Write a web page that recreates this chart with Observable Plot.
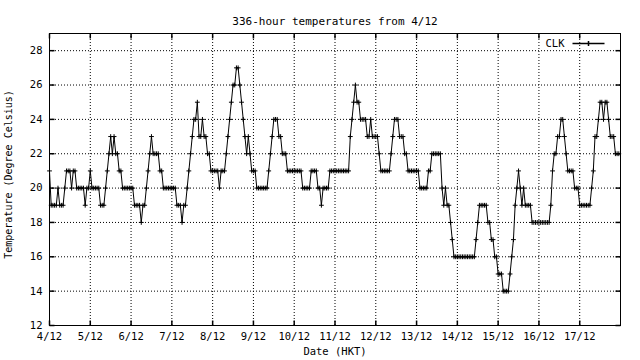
<!DOCTYPE html>
<html>
<head>
<meta charset="utf-8">
<script src="https://cdn.jsdelivr.net/npm/d3@7"></script>
<script src="https://cdn.jsdelivr.net/npm/@observablehq/plot@0.6"></script>
<style>
  html, body { margin: 0; padding: 0; background: #fff; }
</style>
</head>
<body>
<div id="chart"></div>
<script>
// ---- chart data ----
const chartTitle = "336-hour temperatures from 4/12";
const xTitle = "Date (HKT)";
const yTitle = "Temperature (Degree Celsius)";
const seriesName = "CLK";
const dayLabels = ["4/12","5/12","6/12","7/12","8/12","9/12","10/12","11/12","12/12","13/12","14/12","15/12","16/12","17/12"];
const dayStartHours = [0,24,48,72,96,120,144,168,192,216,240,264,288,312];
const hourDomain = [0, 336];
const tempDomain = [12, 29];
const tempTicks = [12,14,16,18,20,22,24,26,28];
// hourly temperatures (deg C), one row per day
const temperatures = [
  21,19,19,19,19,20,19,19,19,20,21,21,21,20,21,21,20,20,20,20,20,19,20,20, // 4/12
  21,20,20,20,20,20,19,19,19,20,21,22,23,22,23,22,22,21,21,20,20,20,20,20, // 5/12
  20,20,19,19,19,19,18,19,19,20,21,22,23,22,22,22,22,21,21,20,20,20,20,20, // 6/12
  20,20,20,19,19,19,18,19,19,20,21,22,23,24,24,25,23,23,24,23,23,22,22,21, // 7/12
  21,21,21,21,20,21,21,21,22,23,24,25,26,26,27,27,26,25,24,23,22,23,22,21, // 8/12
  21,21,20,20,20,20,20,20,20,21,22,23,24,24,24,23,23,22,22,22,21,21,21,21, // 9/12
  21,21,21,21,21,20,20,20,20,20,21,21,21,21,20,20,19,20,20,20,20,21,21,21, // 10/12
  21,21,21,21,21,21,21,21,21,23,24,25,26,25,25,24,24,24,24,23,23,24,23,23, // 11/12
  23,23,22,21,21,21,21,21,21,22,23,24,24,24,23,23,23,22,22,21,21,21,21,21, // 12/12
  21,21,20,20,20,20,20,21,21,22,22,22,22,22,22,20,19,20,19,19,18,17,16,16, // 13/12
  16,16,16,16,16,16,16,16,16,16,16,17,18,19,19,19,19,19,18,18,17,17,16,16, // 14/12
  15,15,15,14,14,14,14,15,16,17,19,20,21,20,19,20,19,19,19,19,18,18,18,18, // 15/12
  18,18,18,18,18,18,18,19,21,22,22,23,23,24,24,23,22,21,21,21,21,20,20,20, // 16/12
  19,19,19,19,19,19,19,20,21,23,23,24,25,25,24,25,25,24,23,23,23,22,22,22  // 17/12
];

// ---- build rows ----
const rows = temperatures.map((t, i) => ({hour: i, temp: t}));

// ---- shapes ----
const plusShape = {draw(ctx, size) { const r = Math.sqrt(size / Math.PI); ctx.moveTo(-r, 0); ctx.lineTo(r, 0); ctx.moveTo(0, -r); ctx.lineTo(0, r); }};
const tickRightShape = {draw(ctx, size) { const r = Math.sqrt(size / Math.PI); ctx.moveTo(0, 0); ctx.lineTo(r, 0); }};
const tickLeftShape = {draw(ctx, size) { const r = Math.sqrt(size / Math.PI); ctx.moveTo(0, 0); ctx.lineTo(-r, 0); }};
const tickUpShape = {draw(ctx, size) { const r = Math.sqrt(size / Math.PI); ctx.moveTo(0, 0); ctx.lineTo(0, -r); }};
const tickDownShape = {draw(ctx, size) { const r = Math.sqrt(size / Math.PI); ctx.moveTo(0, 0); ctx.lineTo(0, r); }};
const legendShape = {draw(ctx, size) { ctx.moveTo(-16, 0); ctx.lineTo(16, 0); ctx.moveTo(0, -2.5); ctx.lineTo(0, 2.5); }};

const font = "'DejaVu Sans Mono', monospace";

const chart = Plot.plot({
  width: 640,
  height: 360,
  marginTop: 33,
  marginBottom: 35,
  marginLeft: 49,
  marginRight: 20,
  style: {fontFamily: font, fontSize: "10px", color: "black", background: "white"},
  x: {domain: hourDomain},
  y: {domain: tempDomain},
  marks: [
    Plot.gridX(dayStartHours.slice(1), {stroke: "black", strokeOpacity: 1, strokeDasharray: "1,2"}),
    Plot.gridY(tempTicks.slice(1), {stroke: "black", strokeOpacity: 1, strokeDasharray: "1,2"}),
    Plot.axisX(dayStartHours, {tickSize: 0, tickPadding: 7, tickFormat: (d) => dayLabels[dayStartHours.indexOf(d)], label: null, fontSize: 10.5}),
    Plot.axisY(tempTicks, {tickSize: 0, tickPadding: 7, label: null, fontSize: 10.5}),
    // inward tick marks on the four sides
    Plot.dot(tempTicks, {x: () => hourDomain[0], y: (d) => d, symbol: tickRightShape, r: 5, stroke: "black", fill: "none"}),
    Plot.dot(tempTicks, {x: () => hourDomain[1], y: (d) => d, symbol: tickLeftShape, r: 5, stroke: "black", fill: "none"}),
    Plot.dot(dayStartHours, {x: (d) => d, y: () => tempDomain[0], symbol: tickUpShape, r: 5, stroke: "black", fill: "none"}),
    Plot.dot(dayStartHours, {x: (d) => d, y: () => tempDomain[1], symbol: tickDownShape, r: 5, stroke: "black", fill: "none"}),
    Plot.frame({stroke: "black"}),
    Plot.line(rows, {x: "hour", y: "temp", stroke: "black", strokeWidth: 1}),
    Plot.dot(rows, {x: "hour", y: "temp", symbol: plusShape, r: 2.4, stroke: "black", fill: "none", strokeWidth: 1}),
    // titles
    Plot.text([chartTitle], {text: (d) => d, frameAnchor: "top", dy: -16, fontSize: 11}),
    Plot.text([xTitle], {text: (d) => d, frameAnchor: "bottom", dy: 29, fontSize: 10.5}),
    Plot.text([yTitle], {text: (d) => d, frameAnchor: "left", dx: -41, dy: -5, rotate: -90, textAnchor: "middle", lineAnchor: "middle", fontSize: 10}),
    // legend
    Plot.text([seriesName], {text: (d) => d, frameAnchor: "top-right", dx: -56, dy: 10, textAnchor: "end", lineAnchor: "middle", fontSize: 10.5}),
    Plot.dot([seriesName], {frameAnchor: "top-right", dx: -32, dy: 10, symbol: legendShape, r: 3, stroke: "black", fill: "none"})
  ]
});
document.getElementById("chart").appendChild(chart);
</script>
</body>
</html>
